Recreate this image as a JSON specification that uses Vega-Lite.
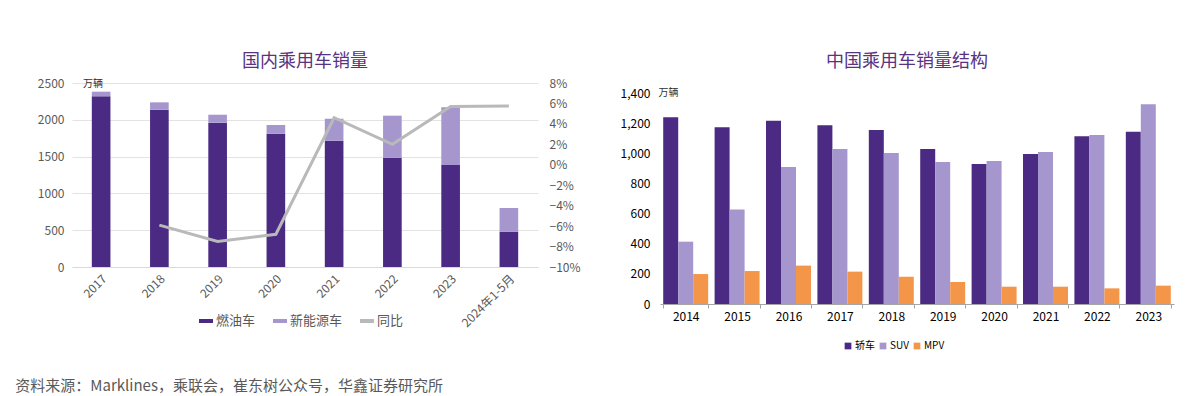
{
  "$schema": "https://vega.github.io/schema/vega-lite/v6.json",
  "padding": {"left": 15, "top": 53, "right": 5, "bottom": 5},
  "background": "white",
  "config": {
    "view": {"stroke": null},
    "font": "Noto Sans CJK SC",
    "title": {"fontSize": 18, "fontWeight": "normal", "color": "#5A3282"}
  },
  "title": {
    "text": "资料来源：Marklines，乘联会，崔东树公众号，华鑫证券研究所",
    "orient": "bottom",
    "anchor": "start",
    "fontSize": 15,
    "fontWeight": "normal",
    "color": "#595959",
    "dx": -22,
    "offset": 28
  },
  "resolve": {"scale": {"color": "independent"}, "legend": {"color": "independent"}},
  "datasets": {
    "sales": [
      {"year": "2017", "type": "燃油车", "value": 2319},
      {"year": "2017", "type": "新能源车", "value": 63},
      {"year": "2018", "type": "燃油车", "value": 2137},
      {"year": "2018", "type": "新能源车", "value": 100},
      {"year": "2019", "type": "燃油车", "value": 1961},
      {"year": "2019", "type": "新能源车", "value": 108},
      {"year": "2020", "type": "燃油车", "value": 1811},
      {"year": "2020", "type": "新能源车", "value": 118},
      {"year": "2021", "type": "燃油车", "value": 1716},
      {"year": "2021", "type": "新能源车", "value": 299},
      {"year": "2022", "type": "燃油车", "value": 1485},
      {"year": "2022", "type": "新能源车", "value": 571},
      {"year": "2023", "type": "燃油车", "value": 1386},
      {"year": "2023", "type": "新能源车", "value": 784},
      {"year": "2024年1-5月", "type": "燃油车", "value": 480},
      {"year": "2024年1-5月", "type": "新能源车", "value": 322}
    ],
    "yoy": [
      {"year": "2018", "yoy": -0.059},
      {"year": "2019", "yoy": -0.075},
      {"year": "2020", "yoy": -0.068},
      {"year": "2021", "yoy": 0.046},
      {"year": "2022", "yoy": 0.020},
      {"year": "2023", "yoy": 0.057},
      {"year": "2024年1-5月", "yoy": 0.0575}
    ],
    "struct": [
      {"year": "2014", "type": "轿车", "value": 1240},
      {"year": "2014", "type": "SUV", "value": 414},
      {"year": "2014", "type": "MPV", "value": 199},
      {"year": "2015", "type": "轿车", "value": 1174},
      {"year": "2015", "type": "SUV", "value": 627},
      {"year": "2015", "type": "MPV", "value": 219},
      {"year": "2016", "type": "轿车", "value": 1218},
      {"year": "2016", "type": "SUV", "value": 910},
      {"year": "2016", "type": "MPV", "value": 255},
      {"year": "2017", "type": "轿车", "value": 1187},
      {"year": "2017", "type": "SUV", "value": 1030},
      {"year": "2017", "type": "MPV", "value": 215},
      {"year": "2018", "type": "轿车", "value": 1156},
      {"year": "2018", "type": "SUV", "value": 1003},
      {"year": "2018", "type": "MPV", "value": 181},
      {"year": "2019", "type": "轿车", "value": 1030},
      {"year": "2019", "type": "SUV", "value": 943},
      {"year": "2019", "type": "MPV", "value": 146},
      {"year": "2020", "type": "轿车", "value": 930},
      {"year": "2020", "type": "SUV", "value": 950},
      {"year": "2020", "type": "MPV", "value": 115},
      {"year": "2021", "type": "轿车", "value": 997},
      {"year": "2021", "type": "SUV", "value": 1010},
      {"year": "2021", "type": "MPV", "value": 115},
      {"year": "2022", "type": "轿车", "value": 1114},
      {"year": "2022", "type": "SUV", "value": 1123},
      {"year": "2022", "type": "MPV", "value": 104},
      {"year": "2023", "type": "轿车", "value": 1145},
      {"year": "2023", "type": "SUV", "value": 1327},
      {"year": "2023", "type": "MPV", "value": 122}
    ]
  },
  "spacing": 39,
  "hconcat": [
    {
      "width": 466,
      "height": 184,
      "title": {"text": "国内乘用车销量", "offset": 6},
      "layer": [
        {
          "data": {"name": "sales"},
          "mark": {"type": "bar"},
          "encoding": {
            "x": {
              "field": "year", "type": "nominal",
              "scale": {"domain": ["2017", "2018", "2019", "2020", "2021", "2022", "2023", "2024年1-5月"], "paddingInner": 0.68, "paddingOuter": 0.34},
              "axis": {"title": null, "labelAngle": -45, "labelColor": "#595959", "labelFontSize": 12, "domainColor": "#D9D9D9", "ticks": false, "labelPadding": 6}
            },
            "y": {
              "field": "value", "type": "quantitative", "stack": "zero",
              "scale": {"domain": [0, 2500], "nice": false},
              "axis": {
                "title": "万辆", "titleAngle": 0, "titleX": 20.5, "titleY": 0, "titleAlign": "center", "titleBaseline": "middle",
                "titleFontSize": 10, "titleFontWeight": "normal", "titleColor": "#333333",
                "values": [0, 500, 1000, 1500, 2000, 2500], "format": "d",
                "grid": true, "gridColor": "#E3E3E3", "domain": false, "ticks": false,
                "labelColor": "#595959", "labelFontSize": 12, "labelPadding": 8
              }
            },
            "color": {
              "field": "type", "type": "nominal",
              "scale": {"domain": ["燃油车", "新能源车", "同比"], "range": ["#4A2A82", "#A596CD", "#B9B9B9"]},
              "legend": {
                "orient": "none", "legendX": 127, "legendY": 231, "direction": "horizontal", "title": null,
                "symbolType": "M-1,-0.22H1V0.22H-1Z", "symbolSize": 156,
                "labelFontSize": 13, "labelColor": "#595959", "columnPadding": 14, "labelOffset": 3,
                "encode": {"symbols": {"update": {"fill": {"scale": "color", "field": "value"}, "stroke": {"value": "transparent"}}}}
              }
            },
            "order": {"field": "type", "sort": "descending"}
          }
        },
        {
          "data": {"name": "yoy"},
          "mark": {"type": "line", "strokeWidth": 3},
          "encoding": {
            "x": {"field": "year", "type": "nominal"},
            "y": {
              "field": "yoy", "type": "quantitative",
              "scale": {"domain": [-0.1, 0.08], "nice": false},
              "axis": {
                "orient": "right", "title": null, "format": ".0%",
                "values": [-0.1, -0.08, -0.06, -0.04, -0.02, 0, 0.02, 0.04, 0.06, 0.08],
                "grid": false, "domain": false, "ticks": false,
                "labelColor": "#595959", "labelFontSize": 12, "labelPadding": 11
              }
            },
            "color": {"datum": "同比"}
          }
        }
      ],
      "resolve": {"scale": {"y": "independent"}}
    },
    {
      "width": 514,
      "height": 221,
      "title": {"text": "中国乘用车销量结构", "offset": 12, "dx": -10},
      "data": {"name": "struct"},
      "mark": {"type": "bar"},
      "encoding": {
        "x": {
          "field": "year", "type": "nominal",
          "scale": {"paddingInner": 0.125, "paddingOuter": 0.0625},
          "axis": {"title": null, "labelAngle": 0, "labelColor": "#000000", "labelFontSize": 12, "domainColor": "#A6A6A6", "tickColor": "#A6A6A6", "tickBand": "extent", "tickSize": 4, "labelPadding": 3}
        },
        "xOffset": {"field": "type", "type": "nominal", "scale": {"domain": ["轿车", "SUV", "MPV"]}},
        "y": {
          "field": "value", "type": "quantitative",
          "scale": {"domain": [0, 1468], "nice": false},
          "axis": {
            "title": "万辆", "titleAngle": 0, "titleX": 8, "titleY": 9, "titleAlign": "center", "titleBaseline": "middle",
            "titleFontSize": 10, "titleFontWeight": "normal", "titleColor": "#333333",
            "values": [0, 200, 400, 600, 800, 1000, 1200, 1400], "format": ",.0f",
            "grid": false, "domain": false, "ticks": false,
            "labelColor": "#000000", "labelFontSize": 12, "labelPadding": 10
          }
        },
        "color": {
          "field": "type", "type": "nominal",
          "scale": {"domain": ["轿车", "SUV", "MPV"], "range": ["#4A2A82", "#A596CD", "#F4964A"]},
          "legend": {
            "orient": "none", "legendX": 183, "legendY": 258, "direction": "horizontal", "title": null,
            "symbolType": "square", "symbolSize": 45, "labelFontSize": 10, "labelColor": "#000000",
            "columnPadding": 3, "labelOffset": 2
          }
        }
      }
    }
  ]
}
